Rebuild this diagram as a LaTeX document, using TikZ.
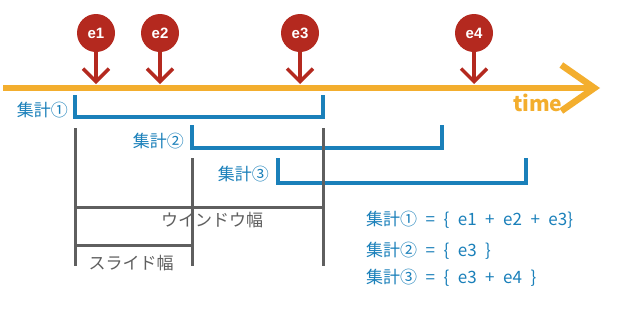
\documentclass[tikz,border=0pt]{standalone}
\usepackage{fontspec}
\setmainfont{Noto Sans CJK JP}
\newfontfamily\evfont{Liberation Sans}
\usetikzlibrary{arrows.meta,positioning}
\definecolor{timeorange}{HTML}{F3AE2E}
\definecolor{evred}{HTML}{B4291F}
\definecolor{aggblue}{HTML}{1A80BA}
\definecolor{rulegray}{HTML}{5F5F5F}
\newcommand\resultspacing{\spaceskip 0.5em\relax}
\tikzset{
  event/.style={circle,fill=evred,minimum size=38pt,inner sep=0pt,text=white,font=\evfont\bfseries\fontsize{15}{15}\selectfont},
  eventarrow/.style={evred,line width=3.5pt,-{Straight Barb[length=13pt,width=26pt]}},
  aggbar/.style={aggblue,line width=4pt},
  agglabel/.style={text=aggblue,font=\fontsize{17}{17}\selectfont,inner sep=0pt},
  aggresult/.style={agglabel,anchor=west,font=\fontsize{17}{17}\selectfont\resultspacing},
  widthrule/.style={rulegray,line width=3pt},
  widthlabel/.style={text=rulegray,font=\fontsize{17}{17}\selectfont,inner sep=0pt},
}

\begin{document}
\begin{tikzpicture}[x=1pt,y=-1pt]
  \useasboundingbox[fill=white] (0,0) rectangle (617,314);
  \coordinate (t0) at (3,88);
  \coordinate (t1) at (600,88);
  \draw[timeorange,line width=6.5pt,-{Straight Barb[length=33pt,width=46pt]}] (t0) -- (t1);
  \node[text=timeorange,font=\bfseries\fontsize{21}{21}\selectfont,anchor=base west,inner sep=0pt] (time) at (513,111) {time};
  \foreach \ev/\x in {e1/96,e2/160,e3/300,e4/474}{
    \node[event] (\ev) at (\x,33) {\ev};
    \coordinate (\ev hit) at (\x,84);
    \draw[eventarrow] (\ev) -- (\ev hit);
  }
  \draw[aggbar] (75,95) |- (323,117) -- (323,95);
  \draw[aggbar] (192,125) |- (442,148) -- (442,125);
  \draw[aggbar] (278,158) |- (526,183) -- (526,158);
  \node[agglabel,anchor=east] (agg1) at (68,110) {集計①};
  \node[agglabel,anchor=east] (agg2) at (184,141) {集計②};
  \node[agglabel,anchor=east] (agg3) at (269,174) {集計③};
  \draw[widthrule] (75,128) -- (75,266);
  \draw[widthrule] (192,158) -- (192,266);
  \draw[widthrule] (323,128) -- (323,266);
  \draw[widthrule] (75,207) -- (323,207);
  \draw[widthrule] (75,245) -- (192,245);
  \node[widthlabel] (win) at (212,220) {ウインドウ幅};
  \node[widthlabel] (slide) at (131,263) {スライド幅};
  \node[aggresult] (res1) at (366,220) {集計① = \{ e1 + e2 + e3\}};
  \node[aggresult] (res2) at (366,251) {集計② = \{ e3 \}};
  \node[aggresult] (res3) at (366,278) {集計③ = \{ e3 + e4 \}};
\end{tikzpicture}
\end{document}
